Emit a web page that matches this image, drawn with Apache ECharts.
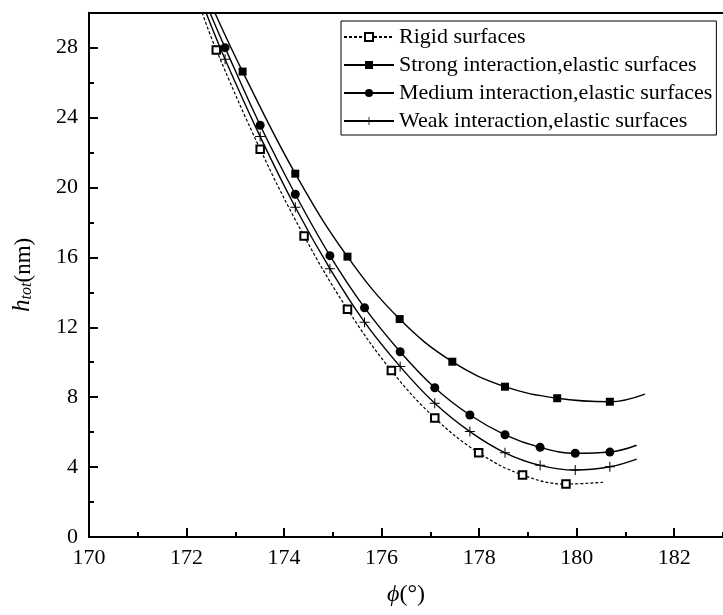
<!DOCTYPE html>
<html><head><meta charset="utf-8">
<script src="https://cdn.jsdelivr.net/npm/echarts@6/dist/echarts.min.js"></script>
<style>html,body{margin:0;padding:0;background:#fff}#c{width:723px;height:615px}</style>
</head><body><div id="c"></div>
<script>
const seriesNames = ['Rigid surfaces', 'Strong interaction,elastic surfaces', 'Medium interaction,elastic surfaces', 'Weak interaction,elastic surfaces'];

// x = phi (deg), y = h_tot (nm); flag 1 = marker shown, 0 = curve end only
const rigidX = [172.32, 172.61, 173.51, 174.41, 175.30, 176.20, 177.09, 177.99, 178.89, 179.78, 180.54];
const rigidY = [30, 27.87, 22.19, 17.22, 13.03, 9.52, 6.81, 4.82, 3.55, 3.03, 3.13];
const rigidMark = [0, 1, 1, 1, 1, 1, 1, 1, 1, 1, 0];

const strongX = [172.58, 173.15, 174.23, 175.30, 176.37, 177.45, 178.53, 179.60, 180.68, 181.40];
const strongY = [30, 26.63, 20.79, 16.04, 12.47, 10.03, 8.60, 7.94, 7.74, 8.18];
const strongMark = [0, 1, 1, 1, 1, 1, 1, 1, 1, 0];

const mediumX = [172.48, 172.79, 173.51, 174.23, 174.94, 175.65, 176.38, 177.09, 177.81, 178.53, 179.25, 179.97, 180.68, 181.23];
const mediumY = [30, 28.0, 23.56, 19.61, 16.10, 13.12, 10.60, 8.54, 6.98, 5.85, 5.13, 4.79, 4.86, 5.25];
const mediumMark = [0, 1, 1, 1, 1, 1, 1, 1, 1, 1, 1, 1, 1, 0];

const weakX = [172.40, 172.79, 173.51, 174.23, 174.94, 175.65, 176.38, 177.09, 177.81, 178.53, 179.25, 179.97, 180.68, 181.23];
const weakY = [30, 27.34, 22.91, 18.87, 15.35, 12.29, 9.75, 7.65, 6.03, 4.82, 4.10, 3.83, 4.02, 4.46];
const weakMark = [0, 1, 1, 1, 1, 1, 1, 1, 1, 1, 1, 1, 1, 0];

const xMin = 170, xMax = 183, xStep = 2;
const yMin = 0, yMax = 30, yStep = 4;

const FONT = '"Liberation Serif", "DejaVu Serif", serif';
const plusPath = 'path://M4.5,0 h1 v4.5 h4.5 v1 h-4.5 v4.5 h-1 v-4.5 h-4.5 v-1 h4.5z';

function build(xs, ys, marks) {
  return xs.map((x, i) => marks[i] ? [x, ys[i]] : { value: [x, ys[i]], symbol: 'none' });
}

const chart = echarts.init(document.getElementById('c'), null, { renderer: 'canvas' });
const axisLineStyle = { color: '#000', width: 2 };
const gridDef = { left: 89, top: 12.7, width: 13 * 49.7, height: 524.3 };

const option = {
  animation: false,
  backgroundColor: '#fff',
  grid: gridDef,
  legend: {
    orient: 'vertical',
    left: 341, top: 21,
    padding: [5, 4, 3, 2],
    borderColor: '#000', borderWidth: 1,
    itemWidth: 50, itemHeight: 10, itemGap: 6,
    textStyle: { fontFamily: FONT, fontSize: 22, color: '#000', lineHeight: 20, padding: [0, 0, 0, 0] },
    data: seriesNames
  },
  xAxis: [
    {
      type: 'value', min: xMin, max: xMax, interval: xStep,
      axisLine: { lineStyle: axisLineStyle },
      axisTick: { inside: true, length: 9, lineStyle: { color: '#000', width: 2 } },
      axisLabel: { color: '#000', fontFamily: FONT, fontSize: 22, margin: 10, showMaxLabel: false },
      splitLine: { show: false },
      name: '{i|ϕ}{n|(°)}', nameLocation: 'middle', nameGap: 46,
      nameTextStyle: { rich: {
        i: { fontFamily: FONT, fontSize: 24, fontStyle: 'italic', color: '#000' },
        n: { fontFamily: FONT, fontSize: 24, color: '#000' } } }
    },
    {
      type: 'value', min: xMin, max: xMax, interval: 1, position: 'bottom',
      axisLine: { show: false },
      axisTick: { inside: true, length: 5, lineStyle: { color: '#000', width: 2 } },
      axisLabel: { show: false }, splitLine: { show: false }
    },
    {
      type: 'value', min: xMin, max: xMax, position: 'top',
      axisLine: { lineStyle: axisLineStyle },
      axisTick: { show: false }, axisLabel: { show: false }, splitLine: { show: false }
    }
  ],
  yAxis: [
    {
      type: 'value', min: yMin, max: yMax, interval: yStep,
      axisLine: { show: true, lineStyle: axisLineStyle },
      axisTick: { show: true, inside: true, length: 9, lineStyle: { color: '#000', width: 2 } },
      axisLabel: { color: '#000', fontFamily: FONT, fontSize: 22, margin: 11, showMaxLabel: false },
      splitLine: { show: false },
      name: '{i|h}{s|tot}{n|(nm)}', nameLocation: 'middle', nameGap: 54,
      nameTextStyle: { rich: {
        i: { fontFamily: FONT, fontSize: 25, fontStyle: 'italic', color: '#000', verticalAlign: 'bottom', lineHeight: 30 },
        s: { fontFamily: FONT, fontSize: 16, fontStyle: 'italic', color: '#000', verticalAlign: 'bottom', lineHeight: 20 },
        n: { fontFamily: FONT, fontSize: 23, color: '#000', verticalAlign: 'bottom', lineHeight: 30 } } }
    },
    {
      type: 'value', min: yMin, max: yMax, interval: 2, position: 'left',
      axisLine: { show: false },
      axisTick: { show: true, inside: true, length: 5, lineStyle: { color: '#000', width: 2 } },
      axisLabel: { show: false }, splitLine: { show: false }
    }
  ],
  series: [
    {
      name: seriesNames[0], type: 'line', smooth: 0.4,
      data: build(rigidX, rigidY, rigidMark),
      symbol: 'emptyRect', symbolSize: 7.5,
      lineStyle: { color: '#000', width: 1.2, type: [3, 2] },
      itemStyle: { color: '#000', borderColor: '#000', borderWidth: 1 }
    },
    {
      name: seriesNames[1], type: 'line', smooth: 0.4,
      data: build(strongX, strongY, strongMark),
      symbol: 'rect', symbolSize: 8,
      lineStyle: { color: '#000', width: 1.4 },
      itemStyle: { color: '#000' }
    },
    {
      name: seriesNames[2], type: 'line', smooth: 0.4,
      data: build(mediumX, mediumY, mediumMark),
      symbol: 'circle', symbolSize: 9,
      lineStyle: { color: '#000', width: 1.4 },
      itemStyle: { color: '#000' }
    },
    {
      name: seriesNames[3], type: 'line', smooth: 0.4,
      data: build(weakX, weakY, weakMark),
      symbol: plusPath, symbolSize: 10,
      lineStyle: { color: '#000', width: 1.4 },
      itemStyle: { color: '#000' }
    }
  ]
};
chart.setOption(option);
</script>
</body></html>
